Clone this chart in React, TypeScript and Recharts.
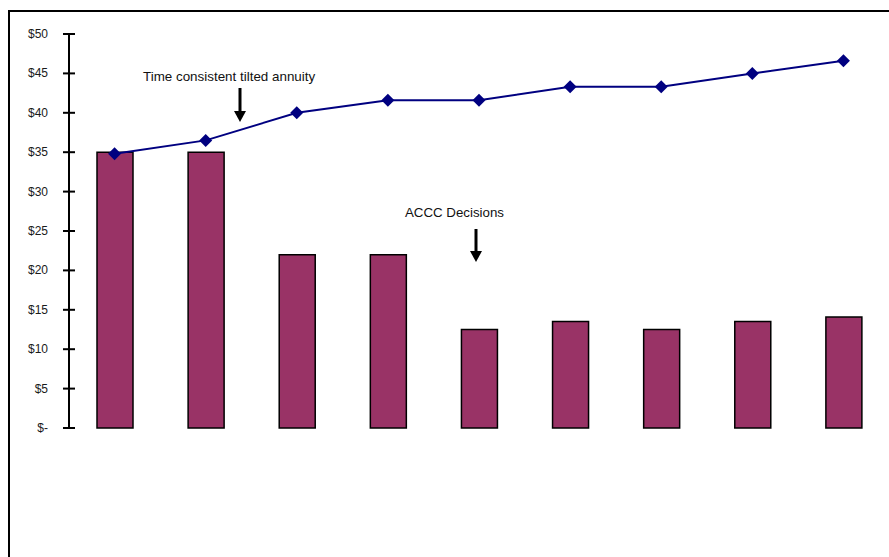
import React from "react";
import { ComposedChart, Bar, Line, XAxis, YAxis } from "recharts";

// categories (unlabelled in the original)
const periods = ["1", "2", "3", "4", "5", "6", "7", "8", "9"];
// ACCC decisions, $ per unit
const acccDecisions = [35, 35, 22, 22, 12.5, 13.5, 12.5, 13.5, 14.1];
// time consistent tilted annuity
const tiltedAnnuity = [34.8, 36.5, 40.0, 41.6, 41.6, 43.3, 43.3, 45.0, 46.6];
const yTicks = [0, 5, 10, 15, 20, 25, 30, 35, 40, 45, 50];

const data = periods.map((p, i) => ({
    period: p,
    accc: acccDecisions[i],
    annuity: tiltedAnnuity[i],
}));

const FONT = "'Liberation Sans', Arial, sans-serif";

const fmtDollar = (v: number) => (v === 0 ? "$-" : `$${v}`);

const YTick = ({ x, y, payload }: any) => (
    <g>
        <line x1={x - 6} x2={x + 6} y1={y} y2={y} stroke="#000" strokeWidth={2} />
        <text
            x={x - 21}
            y={y}
            dy={4}
            textAnchor="end"
            fontSize={12}
            fontFamily={FONT}
            fill="#1a1a1a"
        >
            {fmtDollar(payload.value)}
        </text>
    </g>
);

const Diamond = ({ cx, cy }: any) => {
    if (cx == null || cy == null) return null;
    const r = 6.5;
    return (
        <polygon
            points={`${cx},${cy - r} ${cx + r},${cy} ${cx},${cy + r} ${cx - r},${cy}`}
            fill="#000080"
        />
    );
};

// annotation arrow (shaft + head)
const Arrow = ({ x, y1, y2 }: { x: number; y1: number; y2: number }) => (
    <g>
        <line x1={x} x2={x} y1={y1} y2={y2 - 9} stroke="#000" strokeWidth={3} />
        <polygon points={`${x - 6},${y2 - 11} ${x + 6},${y2 - 11} ${x},${y2}`} fill="#000" />
    </g>
);

export default function App() {
    return (
        <div
            style={{
                position: "fixed",
                top: 10,
                left: 8,
                width: 879,
                height: 545,
                borderTop: "2px solid #000",
                borderLeft: "2px solid #000",
                background: "#fff",
                overflow: "hidden",
            }}
        >
            <ComposedChart
                width={879}
                height={545}
                data={data}
                margin={{ top: 22, right: 0, bottom: 129, left: 0 }}
                barCategoryGap={0}
            >
                <XAxis
                    dataKey="period"
                    tick={false}
                    tickLine={false}
                    height={0}
                    axisLine={{ stroke: "#000", strokeWidth: 1.5 }}
                />
                <YAxis
                    domain={[0, 50]}
                    ticks={yTicks}
                    width={59}
                    tickSize={0}
                    tickMargin={0}
                    tick={<YTick />}
                    axisLine={{ stroke: "#000", strokeWidth: 2 }}
                    interval={0}
                />
                <Bar
                    dataKey="accc"
                    barSize={36}
                    fill="#993366"
                    stroke="#000"
                    strokeWidth={1.5}
                    isAnimationActive={false}
                />
                <Line
                    type="linear"
                    dataKey="annuity"
                    stroke="#000080"
                    strokeWidth={2}
                    dot={<Diamond />}
                    activeDot={false}
                    isAnimationActive={false}
                />
            </ComposedChart>
            <svg
                width={879}
                height={545}
                style={{ position: "absolute", left: 0, top: 0, pointerEvents: "none" }}
            >
                <text x={133} y={69} fontSize={13.4} fontFamily={FONT} fill="#111">
                    Time consistent tilted annuity
                </text>
                <Arrow x={230} y1={76} y2={110} />
                <text x={395} y={205} fontSize={13.3} fontFamily={FONT} fill="#111">
                    ACCC Decisions
                </text>
                <Arrow x={466} y1={217} y2={250} />
            </svg>
        </div>
    );
}
